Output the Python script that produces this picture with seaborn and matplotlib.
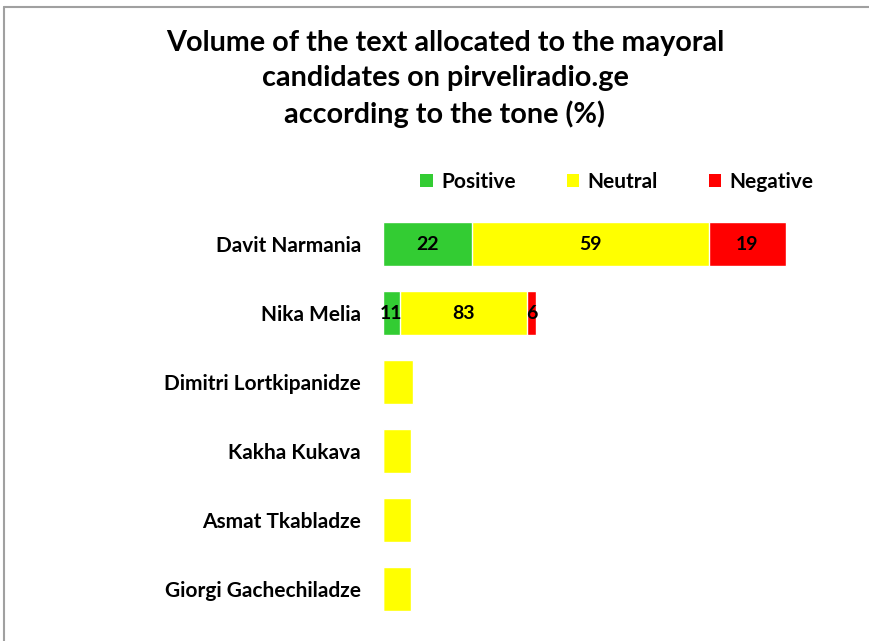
import matplotlib
matplotlib.use("Agg")
import matplotlib.pyplot as plt
import seaborn as sns
import pandas as pd
import numpy as np
from matplotlib.lines import Line2D
from matplotlib.patches import Patch

candidates = ["Davit Narmania", "Nika Melia", "Dimitri Lortkipanidze",
              "Kakha Kukava", "Asmat Tkabladze", "Giorgi Gachechiladze"]
# relative volume of text (bar length)
volume = [100, 38, 7.4, 6.9, 6.9, 6.9]
positive = [22, 11, 0, 0, 0, 0]
neutral = [59, 83, 100, 100, 100, 100]
negative = [19, 6, 0, 0, 0, 0]
tones = ["Positive", "Neutral", "Negative"]
colors = ["#33CC33", "#FFFF00", "#FF0000"]

sns.set_theme(style="white")
plt.rcParams['font.family'] = ['Lato', 'DejaVu Sans']
plt.rcParams['text.color'] = 'black'
plt.rcParams['ytick.color'] = 'black'

df = pd.DataFrame({"candidate": candidates, "volume": volume,
                   "Positive": positive, "Neutral": neutral, "Negative": negative})
df["pos_end"] = df["volume"] * df["Positive"] / 100
df["neu_end"] = df["volume"] * (df["Positive"] + df["Neutral"]) / 100
df["neg_end"] = df["volume"] * (df["Positive"] + df["Neutral"] + df["Negative"]) / 100

fig = plt.figure(figsize=(8.7, 6.41), dpi=100)
ax = fig.add_axes([383 / 870, 1 - 623.5 / 641, 467 / 870, 414 / 641])

for col, c in zip(["neg_end", "neu_end", "pos_end"], colors[::-1]):
    sns.barplot(data=df, x=col, y="candidate", color=c, width=0.65,
                saturation=1, ax=ax, orient="h")

starts = {"Positive": np.zeros(len(df)), "Neutral": df["pos_end"].values,
          "Negative": df["neu_end"].values}
ends = {"Positive": df["pos_end"].values, "Neutral": df["neu_end"].values,
        "Negative": df["neg_end"].values}
for i in range(len(df)):
    if df["volume"][i] < 20:
        continue
    for t in tones:
        v = df[t][i]
        if v > 0:
            xc = (starts[t][i] + ends[t][i]) / 2
            ax.text(xc, i, f"{v}", ha="center", va="center",
                    fontsize=14, fontweight="bold", color="black")

ax.set_xlim(0, 116)
ax.set_ylim(5.5, -0.5)
ax.set_xlabel("")
ax.set_ylabel("")
ax.set_xticks([])
ax.tick_params(axis="y", length=0, pad=16)
for lab in ax.get_yticklabels():
    lab.set_fontweight("bold")
    lab.set_fontsize(15)
    lab.set_color("black")
for s in ax.spines.values():
    s.set_visible(False)

handles = [Patch(facecolor=c, edgecolor="none") for c in colors]
fig.legend(handles, tones, loc="center", bbox_to_anchor=(617 / 870, 1 - 182 / 641),
           ncol=3, frameon=False, prop={"weight": "bold", "size": 15},
           handlelength=0.6, handleheight=0.6, columnspacing=2.45, handletextpad=0.4)

fig.text(445 / 870, 1 - 79 / 641,
         "Volume of the text allocated to the mayoral\ncandidates on pirveliradio.ge\naccording to the tone (%)",
         ha="center", va="center", fontsize=20.7, fontweight="bold", linespacing=1.43,
         color="black")

fig.add_artist(Line2D([4 / 870, 4 / 870], [0, 1 - 7 / 641], color="#A0A0A0", lw=1.5))
fig.add_artist(Line2D([4 / 870, 1], [1 - 7 / 641, 1 - 7 / 641], color="#A0A0A0", lw=1.5))

fig.savefig("out.png", dpi=100)
